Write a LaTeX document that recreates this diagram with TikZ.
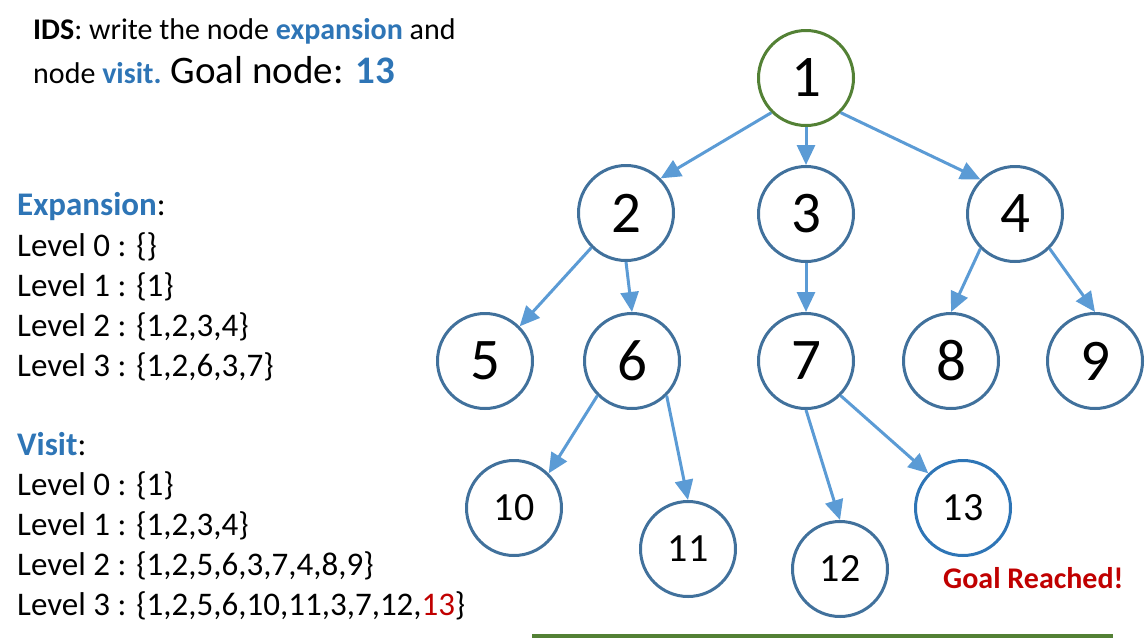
\documentclass[tikz,border=0pt]{standalone}
\usepackage{fontspec}
\setmainfont{Carlito}
\usetikzlibrary{arrows.meta}
\definecolor{nodeblue}{HTML}{41719C}
\definecolor{goalblue}{HTML}{2E75B6}
\definecolor{arrowblue}{HTML}{5B9BD5}
\definecolor{txtblue}{HTML}{2E75B6}
\definecolor{goalred}{HTML}{C00000}
\definecolor{rootgreen}{HTML}{538135}
\begin{document}
\begin{tikzpicture}[x=1pt,y=-1pt,
  tnode/.style={circle,draw=nodeblue,line width=3pt,minimum size=95pt,inner sep=0pt,fill=white,font=\fontsize{59}{59}\selectfont},
  tnodesmall/.style={tnode,font=\fontsize{40}{40}\selectfont},
  edge/.style={draw=arrowblue,line width=3pt,-{Triangle[length=20pt,width=18pt]}},
  txt/.style={anchor=base west,inner sep=0pt,font=\fontsize{33}{33}\selectfont}]
\useasboundingbox (0,0) rectangle (1148,643);
% text
\node[txt,font=\fontsize{30}{30}\selectfont] (title1) at (33,39) {\textbf{IDS}: write the node \textcolor{txtblue}{\textbf{expansion}} and};
\node[txt,font=\fontsize{30}{30}\selectfont] (title2) at (33,83) {node \textcolor{txtblue}{\textbf{visit.}} {\fontsize{39}{39}\selectfont Goal node: \textcolor{txtblue}{\textbf{13}}}};
\node[txt] (exph) at (17,215) {\textcolor{txtblue}{\textbf{Expansion}}:};
\node[txt] (e0) at (17,256) {Level 0 : \{\}};
\node[txt] (e1) at (17,296) {Level 1 : \{1\}};
\node[txt] (e2) at (17,336) {Level 2 : \{1,2,3,4\}};
\node[txt] (e3) at (17,376) {Level 3 : \{1,2,6,3,7\}};
\node[txt] (vh) at (17,455) {\textcolor{txtblue}{\textbf{Visit}}:};
\node[txt] (v0) at (17,495) {Level 0 : \{1\}};
\node[txt] (v1) at (17,535) {Level 1 : \{1,2,3,4\}};
\node[txt] (v2) at (17,575) {Level 2 : \{1,2,5,6,3,7,4,8,9\}};
\node[txt] (v3) at (17,615) {Level 3 : \{1,2,5,6,10,11,3,7,12,\textcolor{goalred}{13}\}};
\node[anchor=base west,inner sep=0pt,text=goalred,font=\fontsize{30}{30}\selectfont\bfseries] (goal) at (943,588) {Goal Reached!};
% tree
\node[tnode,draw=rootgreen] (n1) at (806,78) {1};
\node[tnode] (n2) at (626,213) {2};
\node[tnode] (n3) at (806,214) {3};
\node[tnode] (n4) at (1015,214) {4};
\node[tnode] (n5) at (485,361) {5};
\node[tnode] (n6) at (632,361) {6};
\node[tnode] (n7) at (806,361) {7};
\node[tnode] (n8) at (951,361) {8};
\node[tnode] (n9) at (1095,361) {9};
\node[tnodesmall] (n10) at (514,508) {10};
\node[tnodesmall] (n11) at (688,549) {11};
\node[tnodesmall] (n12) at (840,569) {12};
\node[tnodesmall,draw=goalblue] (n13) at (963,508) {13};
% edges
\draw[edge] (n1.south west) -- (n2.north east);
\draw[edge] (n1.south) -- (n3.north);
\draw[edge] (n1.south east) -- (n4.north west);
\draw[edge] (n2.south west) -- (n5.north east);
\draw[edge] (n2.south) -- (n6.north);
\draw[edge] (n3.south) -- (n7.north);
\draw[edge] (n4.south west) -- (n8.north);
\draw[edge] (n4.south east) -- (n9.north);
\draw[edge] (n6.south west) -- (n10.north east);
\draw[edge] (n6.south east) -- (n11.north);
\draw[edge] (n7.south) -- (n12.north);
\draw[edge] (n7.south east) -- (n13.north west);
% bottom rule
\coordinate (r1) at (532,636);
\coordinate (r2) at (1113,636);
\draw[rootgreen,line width=4pt] (r1) -- (r2);
\end{tikzpicture}
\end{document}
